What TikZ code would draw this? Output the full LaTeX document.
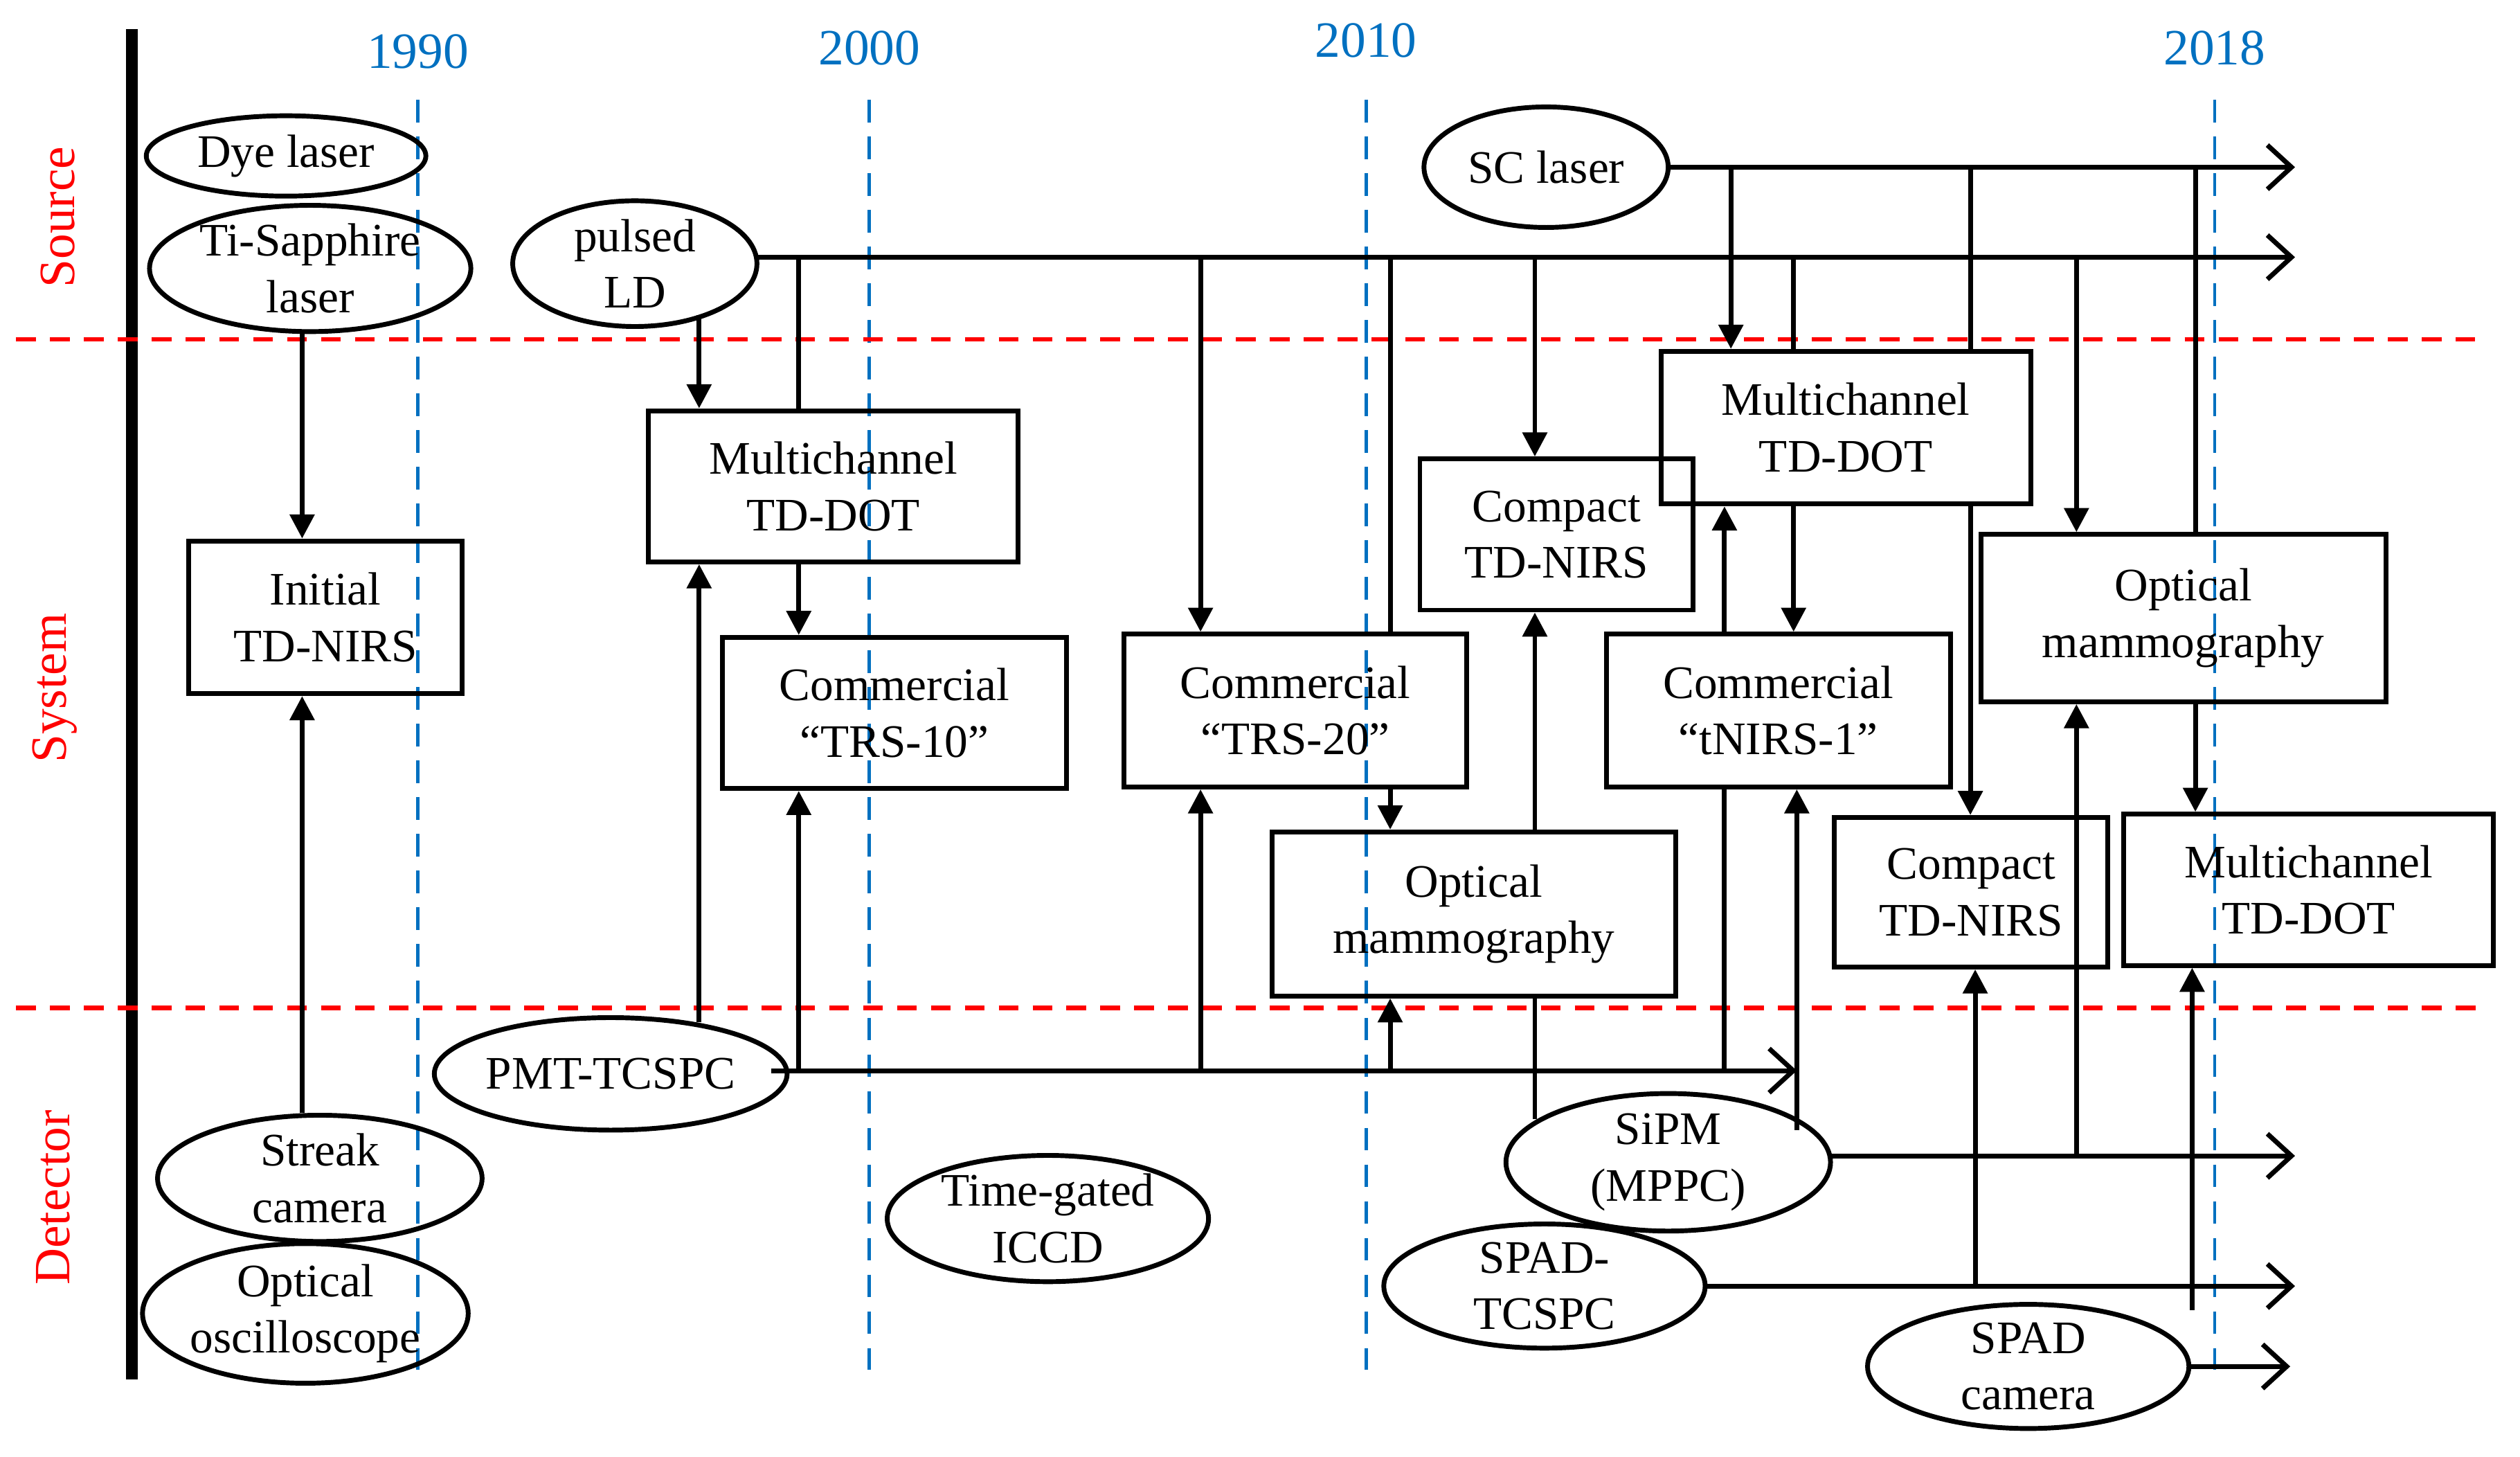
\documentclass[tikz,border=0pt]{standalone}
\usepackage{fontspec}
\setmainfont{Liberation Serif}
\usetikzlibrary{shapes.geometric,arrows.meta}
\definecolor{yb}{RGB}{0,112,192}
\begin{document}
\begin{tikzpicture}[x=0.02cm,y=-0.02cm,
  every node/.style={font=\fontsize{16.5}{20}\selectfont,align=center,inner sep=0pt},
  el/.style={ellipse,draw,line width=1.7pt},
  bx/.style={draw,line width=1.7pt,anchor=north west},
  ln/.style={line width=1.7pt},
  fa/.style={line width=1.7pt,-{Triangle[length=0.3cm,width=0.3cm]}},
  oa/.style={line width=1.7pt,-{Straight Barb[length=0.3cm,width=0.55cm,line width=1.7pt]}},
  yr/.style={dashed,yb,line width=1.2pt,dash pattern=on 8pt off 5pt},
  rd/.style={dashed,red,line width=1.5pt,dash pattern=on 7pt off 5pt},
  yl/.style={text=yb,font=\fontsize{18}{20}\selectfont},
  sl/.style={text=red,rotate=90,font=\fontsize{18}{20}\selectfont}]
\useasboundingbox (0,0) rectangle (1568,906);
% axes
\draw[line width=4pt] (82,18) -- (82,858);
\foreach \x/\y/\t in {260/32/1990,541/30/2000,850/25/2010,1378/30/2018}{
  \node[yl] (y\t) at (\x,\y) {\t};
  \draw[yr] (\x,62) -- (\x,852);}
\draw[rd] (10,211) -- (1540,211);
\draw[rd] (10,627) -- (1548,627);
\node[sl] (ssrc) at (36,135) {Source};
\node[sl] (ssys) at (34,428) {System};
\node[sl] (sdet) at (33,745) {Detector};
% ellipses
\node[el,minimum width=3.48cm,minimum height=1.0cm] (dye) at (178,97) {Dye laser};
\node[el,minimum width=4.0cm,minimum height=1.5cm] (tis) at (193,167) {Ti-Sapphire\\laser};
\node[el,minimum width=3.04cm,minimum height=1.5cm] (ld) at (395,164) {pulsed\\LD};
\node[el,minimum width=3.04cm,minimum height=1.5cm] (sc) at (962,104) {SC laser};
\node[el,minimum width=4.0cm,minimum height=1.4cm] (pmt) at (380,668) {PMT-TCSPC};
\node[el,minimum width=4.04cm,minimum height=1.4cm] (streak) at (199,733) {Streak\\camera};
\node[el,minimum width=4.04cm,minimum height=1.4cm] (osc) at (190,817) {Optical\\oscilloscope};
\node[el,minimum width=4.0cm,minimum height=1.5cm] (iccd) at (652,758) {Time-gated\\ICCD};
\node[el,minimum width=4.04cm,minimum height=1.4cm] (sipm) at (1038,723) {SiPM\\(MPPC)};
\node[el,minimum width=4.0cm,minimum height=1.5cm] (spad) at (961,800) {SPAD-\\TCSPC};
\node[el,minimum width=4.0cm,minimum height=1.5cm] (spc) at (1262,850) {SPAD\\camera};
% boxes
\newcommand{\bxn}[6]{\node[bx,minimum width=#4*0.02cm-1.7pt,minimum height=#5*0.02cm-1.7pt] (#1) at (#2,#3) {#6};}
\bxn{init}{116}{335}{173}{98}{Initial\\TD-NIRS}
\bxn{mc1}{402}{254}{233}{97}{Multichannel\\TD-DOT}
\bxn{trs10}{448}{395}{217}{97}{Commercial\\``TRS-10''}
\bxn{trs20}{698}{393}{216}{98}{Commercial\\``TRS-20''}
\bxn{om1}{790}{516}{254}{105}{Optical\\mammography}
\bxn{cp1}{882}{284}{173}{97}{Compact\\TD-NIRS}
\bxn{mc2}{1032}{217}{233}{98}{Multichannel\\TD-DOT}
\bxn{tn}{998}{393}{217}{98}{Commercial\\``tNIRS-1''}
\bxn{om2}{1231}{331}{255}{107}{Optical\\mammography}
\bxn{cp2}{1140}{507}{173}{96}{Compact\\TD-NIRS}
\bxn{mc3}{1320}{505}{233}{97}{Multichannel\\TD-DOT}
% helper x coordinates
\foreach \x in {188,435,497,747,865,955,1073,1077,1116,1118,1226,1229,1292,1364,1366}{\coordinate (x\x) at (\x,0);}
\coordinate (h160) at (0,160); \coordinate (h104) at (0,104); \coordinate (h666) at (0,666);
\coordinate (h719) at (0,719); \coordinate (h800) at (0,800); \coordinate (h850) at (0,850);
\coordinate (ldE) at (470,160); \coordinate (ldEnd) at (1428,160);
\coordinate (scE) at (1038,104); \coordinate (scEnd) at (1428,104);
\coordinate (pmtE) at (480,666); \coordinate (pmtEnd) at (1118,666);
\coordinate (sipmE) at (1139,719); \coordinate (sipmEnd) at (1428,719);
\coordinate (spadE) at (1061,800); \coordinate (spadEnd) at (1428,800);
\coordinate (spcE) at (1362,850); \coordinate (spcEnd) at (1425,850);
\coordinate (ldB) at (435,196); \coordinate (pmtT) at (435,636);
\coordinate (sipmT) at (955,696); \coordinate (sipmT2) at (1118,703);
\coordinate (spcT) at (1364,815);
% source connectors
\draw[fa] (x188 |- tis.south) -- (x188 |- init.north);
\draw[fa] (x188 |- streak.north) -- (x188 |- init.south);
\draw[fa] (ldB) -- (x435 |- mc1.north);
\draw[oa] (ldE) -- (ldEnd);
\draw[ln] (x497 |- h160) -- (x497 |- mc1.north);
\draw[fa] (x747 |- h160) -- (x747 |- trs20.north);
\draw[ln] (x865 |- h160) -- (x865 |- trs20.north);
\draw[fa] (x865 |- trs20.south) -- (x865 |- om1.north);
\draw[fa] (x955 |- h160) -- (x955 |- cp1.north);
\draw[ln] (x1116 |- h160) -- (x1116 |- mc2.north);
\draw[fa] (x1292 |- h160) -- (x1292 |- om2.north);
\draw[fa] (x497 |- mc1.south) -- (x497 |- trs10.north);
\draw[oa] (scE) -- (scEnd);
\draw[fa] (x1077 |- h104) -- (x1077 |- mc2.north);
\draw[ln] (x1226 |- h104) -- (x1226 |- mc2.north);
\draw[fa] (x1226 |- mc2.south) -- (x1226 |- cp2.north);
\draw[ln] (x1366 |- h104) -- (x1366 |- om2.north);
\draw[fa] (x1366 |- om2.south) -- (x1366 |- mc3.north);
\draw[fa] (x1116 |- mc2.south) -- (x1116 |- tn.north);
% detector connectors
\draw[oa] (pmtE) -- (pmtEnd);
\draw[fa] (pmtT) -- (x435 |- mc1.south);
\draw[fa] (x497 |- h666) -- (x497 |- trs10.south);
\draw[fa] (x747 |- h666) -- (x747 |- trs20.south);
\draw[fa] (x865 |- h666) -- (x865 |- om1.south);
\draw[ln] (x1073 |- h666) -- (x1073 |- tn.south);
\draw[fa] (x1073 |- tn.north) -- (x1073 |- mc2.south);
\draw[ln] (sipmT) -- (x955 |- om1.south);
\draw[fa] (x955 |- om1.north) -- (x955 |- cp1.south);
\draw[fa] (sipmT2) -- (x1118 |- tn.south);
\draw[oa] (sipmE) -- (sipmEnd);
\draw[fa] (x1292 |- h719) -- (x1292 |- om2.south);
\draw[oa] (spadE) -- (spadEnd);
\draw[fa] (x1229 |- h800) -- (x1229 |- cp2.south);
\draw[fa] (spcT) -- (x1364 |- mc3.south);
\draw[oa] (spcE) -- (spcEnd);
\end{tikzpicture}
\end{document}
